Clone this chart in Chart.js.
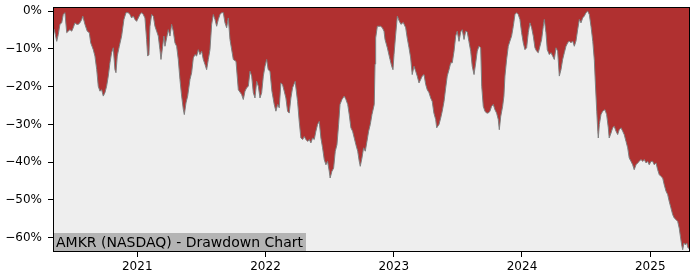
<!DOCTYPE html>
<html>
<head>
<meta charset="utf-8">
<script src="https://cdn.jsdelivr.net/npm/chart.js@4/dist/chart.umd.min.js"></script>
<style>
  body { margin: 0; background: #fff; }
  #wrap { width: 700px; height: 280px; }
</style>
</head>
<body>
<div id="wrap"><canvas id="dd" width="700" height="280"></canvas></div>
<script>
// dates as decimal years
const dates = [
  2020.343, 2020.353, 2020.372, 2020.384, 2020.397, 2020.411, 2020.423, 2020.436, 2020.450, 2020.462,
  2020.475, 2020.489, 2020.501, 2020.514, 2020.528, 2020.540, 2020.553, 2020.567, 2020.575, 2020.592,
  2020.610, 2020.626, 2020.637, 2020.657, 2020.670, 2020.684, 2020.696, 2020.709, 2020.722, 2020.735,
  2020.748, 2020.761, 2020.774, 2020.787, 2020.800, 2020.813, 2020.826, 2020.834, 2020.844, 2020.860,
  2020.878, 2020.896, 2020.912, 2020.930, 2020.943, 2020.956, 2020.969, 2020.982, 2020.995, 2021.008,
  2021.021, 2021.034, 2021.047, 2021.060, 2021.073, 2021.081, 2021.091, 2021.099, 2021.112, 2021.125,
  2021.138, 2021.151, 2021.164, 2021.177, 2021.185, 2021.198, 2021.208, 2021.216, 2021.229, 2021.242,
  2021.255, 2021.268, 2021.281, 2021.294, 2021.307, 2021.320, 2021.333, 2021.346, 2021.359, 2021.367,
  2021.380, 2021.393, 2021.411, 2021.424, 2021.437, 2021.450, 2021.463, 2021.476, 2021.489, 2021.502,
  2021.515, 2021.528, 2021.541, 2021.554, 2021.567, 2021.580, 2021.593, 2021.606, 2021.619, 2021.632,
  2021.645, 2021.658, 2021.671, 2021.684, 2021.697, 2021.710, 2021.723, 2021.749, 2021.770, 2021.788,
  2021.814, 2021.827, 2021.840, 2021.853, 2021.866, 2021.879, 2021.892, 2021.905, 2021.918, 2021.931,
  2021.944, 2021.957, 2021.970, 2021.983, 2021.996, 2022.009, 2022.021, 2022.035, 2022.050, 2022.068,
  2022.081, 2022.095, 2022.107, 2022.120, 2022.133, 2022.146, 2022.159, 2022.172, 2022.185, 2022.198,
  2022.211, 2022.231, 2022.250, 2022.263, 2022.276, 2022.290, 2022.302, 2022.315, 2022.329, 2022.341,
  2022.354, 2022.367, 2022.380, 2022.393, 2022.406, 2022.419, 2022.432, 2022.445, 2022.458, 2022.471,
  2022.484, 2022.497, 2022.504, 2022.518, 2022.531, 2022.544, 2022.557, 2022.570, 2022.581, 2022.596,
  2022.614, 2022.627, 2022.641, 2022.653, 2022.666, 2022.679, 2022.692, 2022.705, 2022.719, 2022.731,
  2022.739, 2022.752, 2022.765, 2022.778, 2022.791, 2022.804, 2022.817, 2022.830, 2022.848, 2022.854,
  2022.859, 2022.872, 2022.898, 2022.911, 2022.924, 2022.932, 2022.950, 2022.971, 2022.984, 2022.994,
  2023.002, 2023.015, 2023.028, 2023.041, 2023.056, 2023.074, 2023.093, 2023.105, 2023.119, 2023.132,
  2023.144, 2023.158, 2023.171, 2023.183, 2023.197, 2023.210, 2023.222, 2023.236, 2023.249, 2023.261,
  2023.275, 2023.288, 2023.300, 2023.313, 2023.327, 2023.335, 2023.353, 2023.366, 2023.378, 2023.392,
  2023.405, 2023.417, 2023.431, 2023.444, 2023.456, 2023.470, 2023.483, 2023.495, 2023.509, 2023.522,
  2023.534, 2023.548, 2023.561, 2023.573, 2023.586, 2023.600, 2023.612, 2023.626, 2023.639, 2023.651,
  2023.664, 2023.678, 2023.686, 2023.698, 2023.711, 2023.724, 2023.737, 2023.750, 2023.763, 2023.776,
  2023.789, 2023.802, 2023.815, 2023.823, 2023.834, 2023.849, 2023.859, 2023.867, 2023.880, 2023.893,
  2023.906, 2023.919, 2023.932, 2023.945, 2023.958, 2023.971, 2023.984, 2023.997, 2024.010, 2024.023,
  2024.036, 2024.049, 2024.062, 2024.075, 2024.088, 2024.101, 2024.114, 2024.127, 2024.140, 2024.153,
  2024.166, 2024.174, 2024.187, 2024.197, 2024.213, 2024.226, 2024.239, 2024.252, 2024.265, 2024.278,
  2024.291, 2024.304, 2024.317, 2024.330, 2024.343, 2024.356, 2024.369, 2024.382, 2024.395, 2024.408,
  2024.421, 2024.434, 2024.447, 2024.460, 2024.473, 2024.486, 2024.499, 2024.512, 2024.525, 2024.538,
  2024.552, 2024.564, 2024.572, 2024.583, 2024.591, 2024.595, 2024.603, 2024.616, 2024.629, 2024.647,
  2024.660, 2024.673, 2024.680, 2024.694, 2024.707, 2024.719, 2024.733, 2024.746, 2024.758, 2024.772,
  2024.785, 2024.797, 2024.811, 2024.824, 2024.836, 2024.850, 2024.863, 2024.875, 2024.889, 2024.902,
  2024.914, 2024.928, 2024.941, 2024.953, 2024.967, 2024.980, 2024.992, 2025.006, 2025.019, 2025.031,
  2025.045, 2025.058, 2025.070, 2025.084, 2025.097, 2025.109, 2025.123, 2025.136, 2025.148, 2025.161,
  2025.175, 2025.187, 2025.200, 2025.214, 2025.226, 2025.237, 2025.245, 2025.253, 2025.263, 2025.273,
  2025.284, 2025.294, 2025.310
];

// drawdown in percent
const drawdown = [
  -4.5, -4.9, -8.0, -6.2, -3.5, -3.1, -0.9, -0.4, -5.7, -5.3,
  -4.9, -5.3, -4.4, -3.1, -3.5, -3.5, -3.1, -2.2, -1.3, -3.5,
  -5.3, -5.7, -8.4, -10.2, -11.9, -15.5, -19.9, -21.2, -20.8, -22.5,
  -21.6, -19.9, -17.2, -13.7, -11.0, -9.7, -15.5, -16.3, -11.9, -9.3,
  -6.6, -2.2, -0.4, -0.4, -0.9, -1.8, -1.3, -2.2, -2.7, -1.8,
  -0.9, -0.4, -0.9, -1.8, -7.5, -11.9, -11.5, -4.0, -0.9, -1.3,
  -4.0, -5.3, -6.6, -10.2, -12.8, -9.3, -6.6, -9.3, -7.1, -4.9,
  -6.6, -3.5, -5.3, -8.4, -9.3, -12.8, -18.1, -22.5, -26.0, -27.4,
  -24.3, -22.5, -18.1, -16.3, -12.4, -11.5, -11.9, -10.2, -11.5, -10.6,
  -12.8, -14.1, -15.5, -12.8, -10.2, -3.5, -0.9, -2.2, -4.0, -2.2,
  -0.9, -0.4, -0.4, -3.1, -4.4, -1.8, -7.5, -12.8, -13.3, -20.8,
  -22.1, -23.4, -21.2, -20.3, -19.9, -15.9, -17.2, -21.6, -23.0, -18.6,
  -19.9, -23.0, -21.6, -17.2, -14.6, -12.8, -15.5, -15.9, -21.2, -24.7,
  -26.5, -24.7, -25.6, -19.0, -19.5, -21.2, -23.0, -26.5, -27.0, -23.0,
  -20.3, -18.6, -23.9, -29.2, -33.6, -34.0, -33.2, -34.0, -34.5, -34.0,
  -34.9, -33.6, -34.0, -31.8, -30.0, -29.2, -33.6, -36.2, -39.3, -40.7,
  -39.8, -42.4, -44.2, -42.4, -41.6, -37.1, -35.4, -30.0, -24.7, -23.4,
  -22.5, -23.4, -24.7, -27.4, -30.9, -31.8, -33.6, -35.4, -37.1, -39.8,
  -41.1, -38.9, -36.2, -37.1, -34.5, -31.8, -30.0, -27.4, -24.7, -14.0,
  -7.1, -4.0, -4.0, -4.4, -5.3, -7.5, -9.7, -12.8, -14.6, -15.5,
  -11.5, -6.2, -1.3, -2.5, -3.5, -3.0, -4.4, -7.1, -9.7, -12.4,
  -16.8, -14.6, -15.9, -17.2, -19.0, -18.1, -17.2, -16.8, -19.4, -20.8,
  -21.6, -23.0, -23.9, -27.0, -28.7, -30.9, -30.0, -28.3, -26.5, -23.9,
  -20.3, -17.2, -15.5, -13.7, -13.7, -10.6, -6.6, -5.3, -8.0, -5.5,
  -4.9, -7.5, -5.3, -5.5, -8.0, -10.6, -14.6, -16.8, -13.7, -10.6,
  -9.3, -9.7, -19.9, -25.2, -26.5, -27.0, -27.0, -26.5, -25.2, -24.7,
  -26.1, -27.0, -28.7, -31.4, -27.9, -25.2, -22.5, -17.2, -12.8, -9.3,
  -7.9, -6.6, -4.0, -0.9, -0.4, -0.9, -2.2, -5.7, -8.4, -10.2,
  -9.7, -5.7, -3.1, -4.4, -6.6, -9.7, -10.6, -11.0, -9.3, -7.5,
  -4.0, -2.2, -5.7, -10.2, -11.5, -11.0, -11.9, -12.8, -9.7, -10.6,
  -17.2, -15.5, -12.8, -11.0, -9.3, -8.4, -7.9, -8.4, -7.9, -9.3,
  -7.9, -4.9, -2.2, -3.1, -1.8, -1.3, -0.4, 0, -0.9, -4.0,
  -8.0, -13.0, -19.0, -26.5, -31.8, -33.6, -30.0, -27.4, -26.5, -26.1,
  -27.4, -30.9, -33.6, -32.3, -30.9, -30.5, -31.8, -32.7, -31.4, -30.9,
  -31.8, -32.7, -34.5, -36.2, -38.9, -39.8, -40.7, -42.0, -40.7, -40.2,
  -39.8, -39.3, -39.8, -39.3, -40.2, -39.8, -40.7, -39.8, -39.8, -40.7,
  -40.2, -42.0, -43.3, -43.8, -44.2, -46.0, -47.7, -48.6, -50.4, -52.1,
  -53.9, -54.8, -55.2, -55.7, -57.5, -60.1, -61.9, -63.2, -61.4, -61.9,
  -61.4, -62.7, -63.0
];

const yearTicks = [2021, 2022, 2023, 2024, 2025];
const pctTicks = [0, -10, -20, -30, -40, -50, -60];
const chartTitle = 'AMKR (NASDAQ) - Drawdown Chart';

const FONT = 'DejaVu Sans';

// grey plot background, black frame and the label box in the corner
const framePlugin = {
  id: 'frame',
  beforeDraw(chart) {
    const { ctx, chartArea: a } = chart;
    ctx.save();
    ctx.fillStyle = '#eeeeee';
    ctx.fillRect(a.left, a.top, a.right - a.left, a.bottom - a.top);
    ctx.restore();
  },
  afterDatasetsDraw(chart) {
    const { ctx, chartArea: a } = chart;
    ctx.save();
    ctx.font = '14px "' + FONT + '"';
    const w = ctx.measureText(chartTitle).width;
    const h = 19;
    ctx.fillStyle = '#b4b4b4';
    ctx.fillRect(a.left, a.bottom - h, w + 6, h);
    ctx.fillStyle = '#000';
    ctx.textBaseline = 'middle';
    ctx.fillText(chartTitle, a.left + 3, a.bottom - h / 2 + 0.5);
    ctx.restore();
  },
  afterDraw(chart) {
    const { ctx, chartArea: a } = chart;
    ctx.save();
    ctx.strokeStyle = '#000';
    ctx.lineWidth = 1;
    ctx.strokeRect(Math.round(a.left) + 0.5, Math.round(a.top) + 0.5,
      Math.round(a.right - a.left) - 1, Math.round(a.bottom - a.top) - 1);
    ctx.restore();
  }
};

new Chart(document.getElementById('dd'), {
  type: 'line',
  data: {
    datasets: [{
      data: dates.map((d, i) => ({ x: d, y: drawdown[i] })),
      borderColor: '#7f7f7f',
      borderWidth: 1,
      backgroundColor: '#b03030',
      fill: 'end',
      pointRadius: 0,
      tension: 0
    }]
  },
  options: {
    responsive: false,
    animation: false,
    layout: { padding: { top: 7, right: 10, left: 0, bottom: 0 } },
    plugins: { legend: { display: false }, tooltip: { enabled: false } },
    scales: {
      x: {
        type: 'linear',
        min: dates[0],
        max: dates[dates.length - 1],
        afterBuildTicks: s => { s.ticks = yearTicks.map(v => ({ value: v })); },
        afterFit: s => { s.height = 28; s.paddingLeft = 0; s.paddingRight = 0; },
        grid: { drawOnChartArea: false, tickLength: 5, color: '#000' },
        border: { display: false },
        ticks: {
          autoSkip: false, maxRotation: 0, padding: 3, color: '#000',
          font: { family: FONT, size: 12 },
          callback: v => String(v)
        }
      },
      y: {
        min: -63.8,
        max: 1.1,
        afterBuildTicks: s => { s.ticks = pctTicks.map(v => ({ value: v })); },
        afterFit: s => { s.width = 53; s.paddingTop = 0; s.paddingBottom = 0; },
        grid: { drawOnChartArea: false, tickLength: 5, color: '#000' },
        border: { display: false },
        ticks: {
          autoSkip: false, padding: 6, color: '#000',
          font: { family: FONT, size: 12 },
          callback: v => v === 0 ? '0%' : '\u2212' + Math.abs(v) + '%'
        }
      }
    }
  },
  plugins: [framePlugin]
});
</script>
</body>
</html>
